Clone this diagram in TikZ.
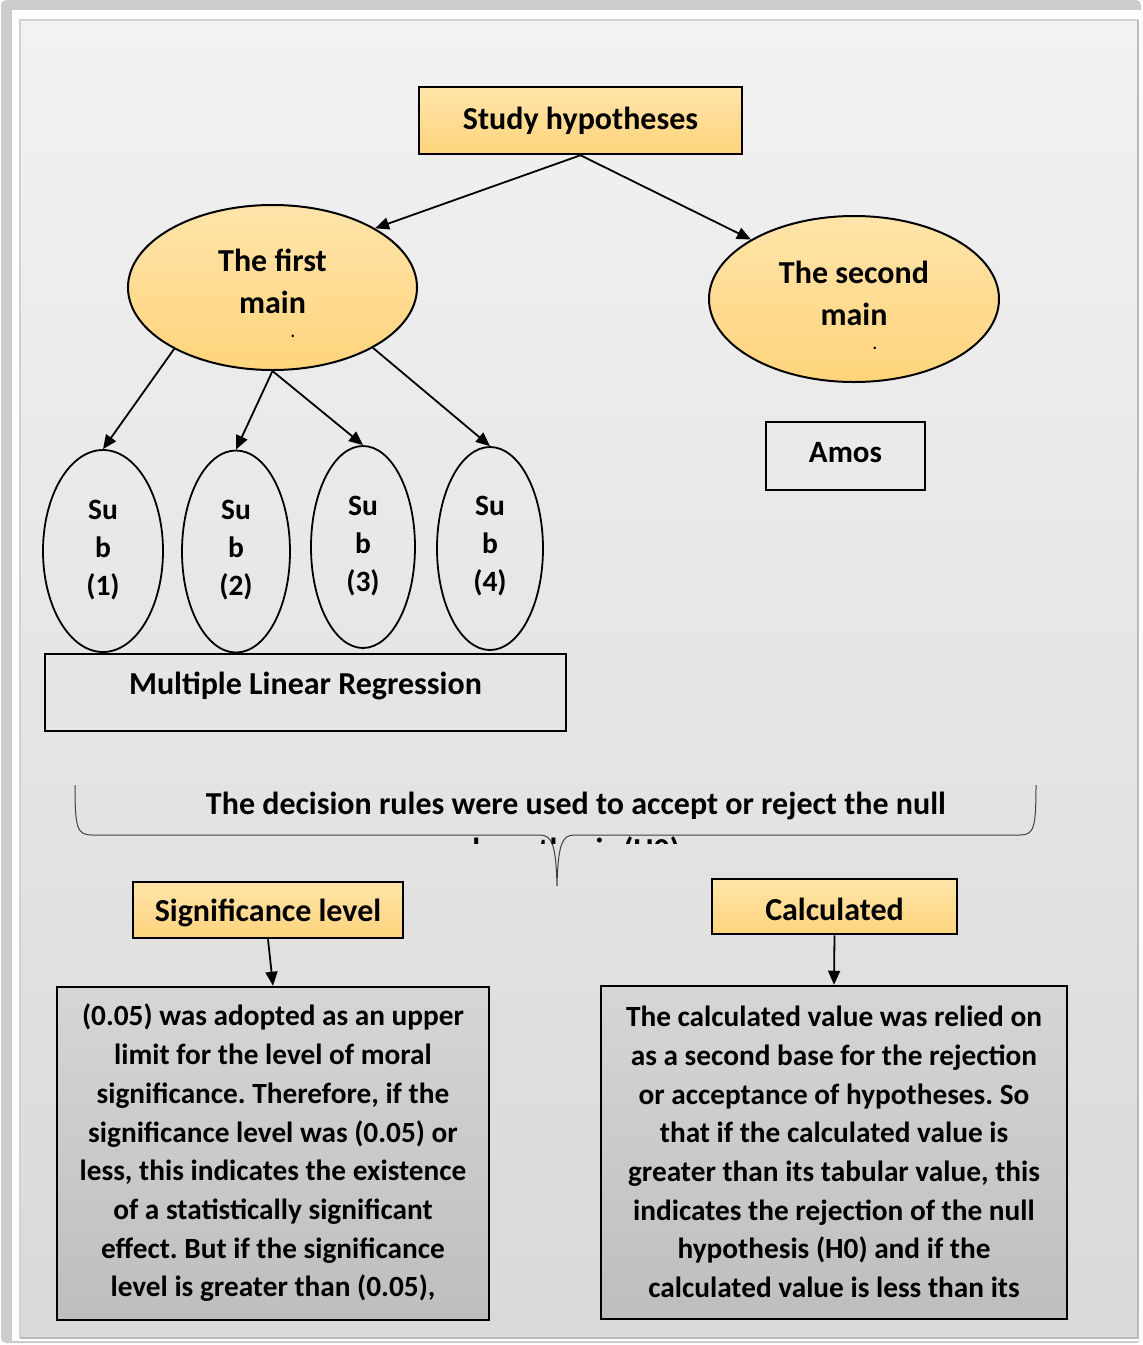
\documentclass[tikz,border=0pt]{standalone}
\usepackage{fontspec}
\setmainfont{Carlito}
\usetikzlibrary{shapes.geometric,arrows.meta}
\definecolor{orA}{HTML}{FFE4AA}
\definecolor{orB}{HTML}{FFD47C}
\definecolor{grA}{HTML}{D6D6D6}
\definecolor{grB}{HTML}{BEBEBE}
\definecolor{pnA}{HTML}{F2F2F2}
\definecolor{pnB}{HTML}{D9D9D9}
\frenchspacing
\tikzset{
 base/.style={font=\fontsize{29.3}{38.7}\selectfont\bfseries, text=black, inner sep=0pt},
 ttl/.style={font=\fontsize{32}{42}\selectfont\bfseries, text=black, inner sep=0pt},
 subt/.style={font=\fontsize{29.5}{38}\selectfont\bfseries, text=black, inner sep=0pt, align=center},
 dotx/.style={font=\fontsize{17}{17}\selectfont\bfseries, text=black, inner sep=0pt, text height=3pt, text depth=0pt, anchor=base},
 obox/.style={draw=black, line width=2.5pt, top color=orA, bottom color=orB, inner sep=0pt},
 oell/.style={ellipse, draw=black, line width=2pt, top color=orA, bottom color=orB, inner sep=0pt},
 sell/.style={ellipse, draw=black, line width=1.8pt, inner sep=0pt},
 pbox/.style={draw=black, line width=1.6pt, inner sep=0pt},
 gbox/.style={draw=black, line width=2.5pt, top color=grA, bottom color=grB, inner sep=0pt},
 arr/.style={-{Triangle[length=14pt,width=12pt]}, line width=1.8pt},
}
\begin{document}
\begin{tikzpicture}[x=1pt,y=-1pt]
\useasboundingbox (0,0) rectangle (1143,1345);
% frame and panel
\fill[white] (0,0) rectangle (1143,1345);
\fill[gray!40, rounded corners=5pt] (1,0) rectangle (1141,1343);
\fill[white] (12,10) rectangle (1141,1341);
\shade[top color=pnA, bottom color=pnB] (20,20) rectangle (1138,1338);
\draw[gray!35, line width=1.2pt] (20,1338) -- (20,20) -- (1138,20);
\draw[gray!55, line width=1.5pt] (20,1338) -- (1138,1338) -- (1138,20);

% top box
\node[obox, minimum width=323pt, minimum height=67pt] (hyp) at (580.5,120.5) {};
\node[ttl] (hypt) at (580.5,121) {Study hypotheses};

% main ellipses
\node[oell, minimum width=289pt, minimum height=165pt] (first) at (272.5,287.5) {};
\node[ttl, align=center] (firstt) at (272.5,281) {The first\\main};
\node[dotx] (firstd) at (293,337) {.};
\node[oell, minimum width=290pt, minimum height=166pt] (second) at (854,299) {};
\node[ttl, align=center] (secondt) at (854,293) {The second\\main};
\node[dotx] (secondd) at (875,349) {.};

\draw[arr] (hyp.south) -- (first.30);
\draw[arr] (hyp.south) -- (second.150);

% Amos
\node[pbox, minimum width=159pt, minimum height=68pt] (amos) at (845.5,456) {};
\node[ttl, font=\fontsize{31}{40}\selectfont\bfseries] (amost) at (845.5,453) {Amos};

% sub ellipses
\node[sell, minimum width=120pt, minimum height=202pt] (s1) at (103,551) {};
\node[sell, minimum width=108pt, minimum height=202pt] (s2) at (236,551.5) {};
\node[sell, minimum width=104pt, minimum height=202pt] (s3) at (363,547) {};
\node[sell, minimum width=106pt, minimum height=203pt] (s4) at (490,548.5) {};
\node[subt] (s1t) at (103,550) {Su\\b\\(1)};
\node[subt] (s2t) at (236,550) {Su\\b\\(2)};
\node[subt] (s3t) at (363,546) {Su\\b\\(3)};
\node[subt] (s4t) at (490,546) {Su\\b\\(4)};

\draw[arr] (first.-148) -- (s1.north);
\draw[arr] (first.south) -- (s2.north);
\draw[arr] (first.south) -- (s3.north);
\draw[arr] (first.-31) -- (s4.north);

% MLR
\node[pbox, minimum width=521pt, minimum height=77pt] (mlr) at (305.5,692.5) {};
\node[ttl] (mlrt) at (305.5,686) {Multiple Linear Regression};

% brace
\draw[black!75, line width=1pt] (75,785) .. controls (75,828) and (77,835) .. (92,835) -- (540,835)
  .. controls (552,835) and (556,845) .. (557,886)
  .. controls (558,845) and (562,835) .. (574,835) -- (1020,835)
  .. controls (1034,835) and (1036,828) .. (1036,785);
\node[ttl] (rule) at (576,806) {The decision rules were used to accept or reject the null};
\begin{scope}
\clip (400,836) rectangle (760,843);
\node[ttl] (rule2) at (576,851) {hypothesis (H0)};
\end{scope}

% second level boxes
\node[obox, minimum width=270pt, minimum height=56pt] (sig) at (268,910) {};
\node[ttl] (sigt) at (268,913) {Significance level};
\node[obox, minimum width=245pt, minimum height=55pt] (calc) at (834.5,906.5) {};
\node[ttl] (calct) at (834.5,909) {Calculated};

\node[gbox, minimum width=432pt, minimum height=333pt] (lbox) at (273,1153.5) {};
\node[base, align=center] (lboxt) at (273,1153) {(0.05) was adopted as an upper\\limit for the level of moral\\significance. Therefore, if the\\significance level was (0.05) or\\less, this indicates the existence\\of a statistically significant\\effect. But if the significance\\level is greater than (0.05),};
\node[gbox, minimum width=466pt, minimum height=333pt] (rbox) at (834,1152.5) {};
\node[base, align=center] (rboxt) at (834,1152) {The calculated value was relied on\\as a second base for the rejection\\or acceptance of hypotheses. So\\that if the calculated value is\\greater than its tabular value, this\\indicates the rejection of the null\\hypothesis (H0) and if the\\calculated value is less than its};

\draw[arr] (sig.south) -- (lbox.north);
\draw[arr] (calc.south) -- (rbox.north);
\end{tikzpicture}
\end{document}
